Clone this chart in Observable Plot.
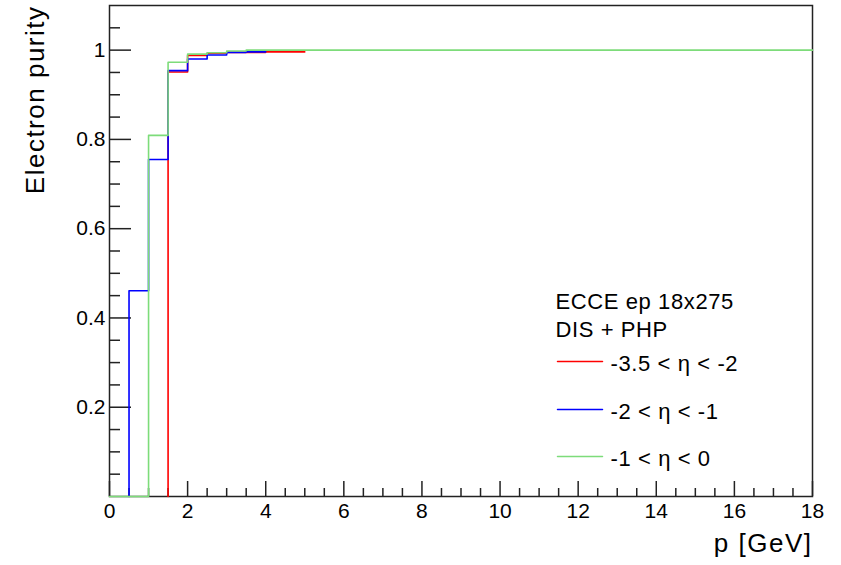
<!DOCTYPE html>
<html><head><meta charset="utf-8">
<script src="https://cdn.jsdelivr.net/npm/d3@7"></script>
<script src="https://cdn.jsdelivr.net/npm/@observablehq/plot@0.6"></script>
<style>
body{margin:0;background:#fff;} svg{display:block;}
g[aria-label="x-axis tick label"], g[aria-label="y-axis tick label"]{font-size:21px !important;}
g[aria-label="x-axis tick label"] text, g[aria-label="y-axis tick label"] text{font-size:21px !important;}
</style>
</head><body><div id="chart"></div>
<script>
// ---- data ----
const seriesLabels = ["-3.5 < η < -2", "-2 < η < -1", "-1 < η < 0"];
const seriesColors = ["#ff0000", "#0000ff", "#7ddc7a"];
const legendHeader = ["ECCE ep 18x275", "DIS + PHP"];
const redEdges = [1.5, 2, 2.5, 3, 3.5, 4, 4.5, 5];
const redPurity = [0.951, 0.988, 0.993, 0.995, 0.995, 0.996, 0.996];
const blueEdges = [0.5, 1, 1.5, 2, 2.5, 3, 3.5, 4];
const bluePurity = [0.461, 0.755, 0.954, 0.980, 0.989, 0.995, 0.996];
const greenEdges = [0, 0.5, 1, 1.5, 2, 2.5, 3, 3.5, 4, 18];
const greenPurity = [0, 0, 0.809, 0.973, 0.991, 0.994, 0.998, 1.0, 1.0];
const xTicks = [0, 2, 4, 6, 8, 10, 12, 14, 16, 18];
const yTicks = [0.2, 0.4, 0.6, 0.8, 1];
const xMinor = d3.range(0.5, 18, 0.5).filter(v => v % 2 !== 0);
const yMinor = d3.range(1, 22).map(i => i * 0.05).filter(v => Math.abs(v * 5 - Math.round(v * 5)) > 1e-6);

function steps(edges, values) {
  const pts = [{x: edges[0], y: 0}];
  values.forEach((v, i) => { pts.push({x: edges[i], y: v}, {x: edges[i + 1], y: v}); });
  return pts;
}
const series = [steps(redEdges, redPurity), steps(blueEdges, bluePurity), steps(greenEdges, greenPurity)];

const W = 841, H = 565, mL = 109, mR = 29, mT = 5, mB = 69;
const fw = W - mL - mR, fh = H - mT - mB;
const font = "'Liberation Sans', Arial, Helvetica, sans-serif";
const lineShape = {draw(ctx, l) { ctx.moveTo(0, 0); ctx.lineTo(0, -l); }};

const legendRowsDy = [356, 404, 451];
const legendTextDy = [365.7, 413.3, 460.7];

const marks = [
  Plot.tickY(yTicks, {y: d => d, insetRight: fw - 22, stroke: "#222", strokeWidth: 1.5}),
  Plot.tickY(yMinor, {y: d => d, insetRight: fw - 11, stroke: "#222", strokeWidth: 1.5}),
  Plot.tickX(xTicks, {x: d => d, insetTop: fh - 15, stroke: "#222", strokeWidth: 1.5}),
  Plot.tickX(xMinor, {x: d => d, insetTop: fh - 8, stroke: "#222", strokeWidth: 1.5}),
  Plot.frame({stroke: "#222", strokeWidth: 1.5}),
  Plot.axisX({ticks: xTicks, tickSize: 0, tickPadding: 7, fontSize: 21, label: null, tickFormat: d => String(d)}),
  Plot.axisY({ticks: yTicks, tickSize: 0, tickPadding: 4, fontSize: 21, label: null, tickFormat: d => String(d)}),
  ...series.map((s, i) => Plot.line(s, {x: "x", y: "y", stroke: seriesColors[i], strokeWidth: 1.6, curve: "linear"})),
  Plot.text(["Electron purity"], {frameAnchor: "top-left", text: d => d, rotate: -90, textAnchor: "end", lineAnchor: "bottom", dx: -66, dy: 0, fontSize: 26, fill: "#000"}),
  Plot.text(["p [GeV]"], {frameAnchor: "bottom-right", text: d => d, textAnchor: "end", lineAnchor: "bottom", dx: 0, dy: 55, fontSize: 26, fill: "#000"}),
  Plot.text([legendHeader[0]], {frameAnchor: "top-left", text: d => d, textAnchor: "start", lineAnchor: "bottom", dx: 446, dy: 303.3, fontSize: 22, fill: "#000"}),
  Plot.text([legendHeader[1]], {frameAnchor: "top-left", text: d => d, textAnchor: "start", lineAnchor: "bottom", dx: 446, dy: 331.7, fontSize: 22, fill: "#000"}),
  ...seriesLabels.flatMap((lab, i) => [
    Plot.vector([0], {frameAnchor: "top-left", dx: 448, dy: legendRowsDy[i], rotate: 90, length: 45, anchor: "start", shape: lineShape, stroke: seriesColors[i], strokeWidth: 1.5}),
    Plot.text([lab], {frameAnchor: "top-left", text: d => d, textAnchor: "start", lineAnchor: "bottom", dx: 501, dy: legendTextDy[i], fontSize: 22, fill: "#000"})
  ])
];

const chart = Plot.plot({
  width: W, height: H,
  marginLeft: mL, marginRight: mR, marginTop: mT, marginBottom: mB,
  style: {fontFamily: font, background: "#fff", color: "#000", overflow: "visible"},
  x: {domain: [0, 18]},
  y: {domain: [0, 1.1]},
  marks
});
// letter spacing on titles and legend texts
const titles = new Set(["Electron purity", "p [GeV]"]);
const legendTexts = new Set([...legendHeader, ...seriesLabels]);
d3.select(chart).selectAll("text").each(function() {
  const t = this.textContent;
  if (titles.has(t)) this.style.letterSpacing = "1.5px";
  else if (legendTexts.has(t)) this.style.letterSpacing = "0.6px";
});
document.getElementById("chart").appendChild(chart);
</script>
</body></html>
